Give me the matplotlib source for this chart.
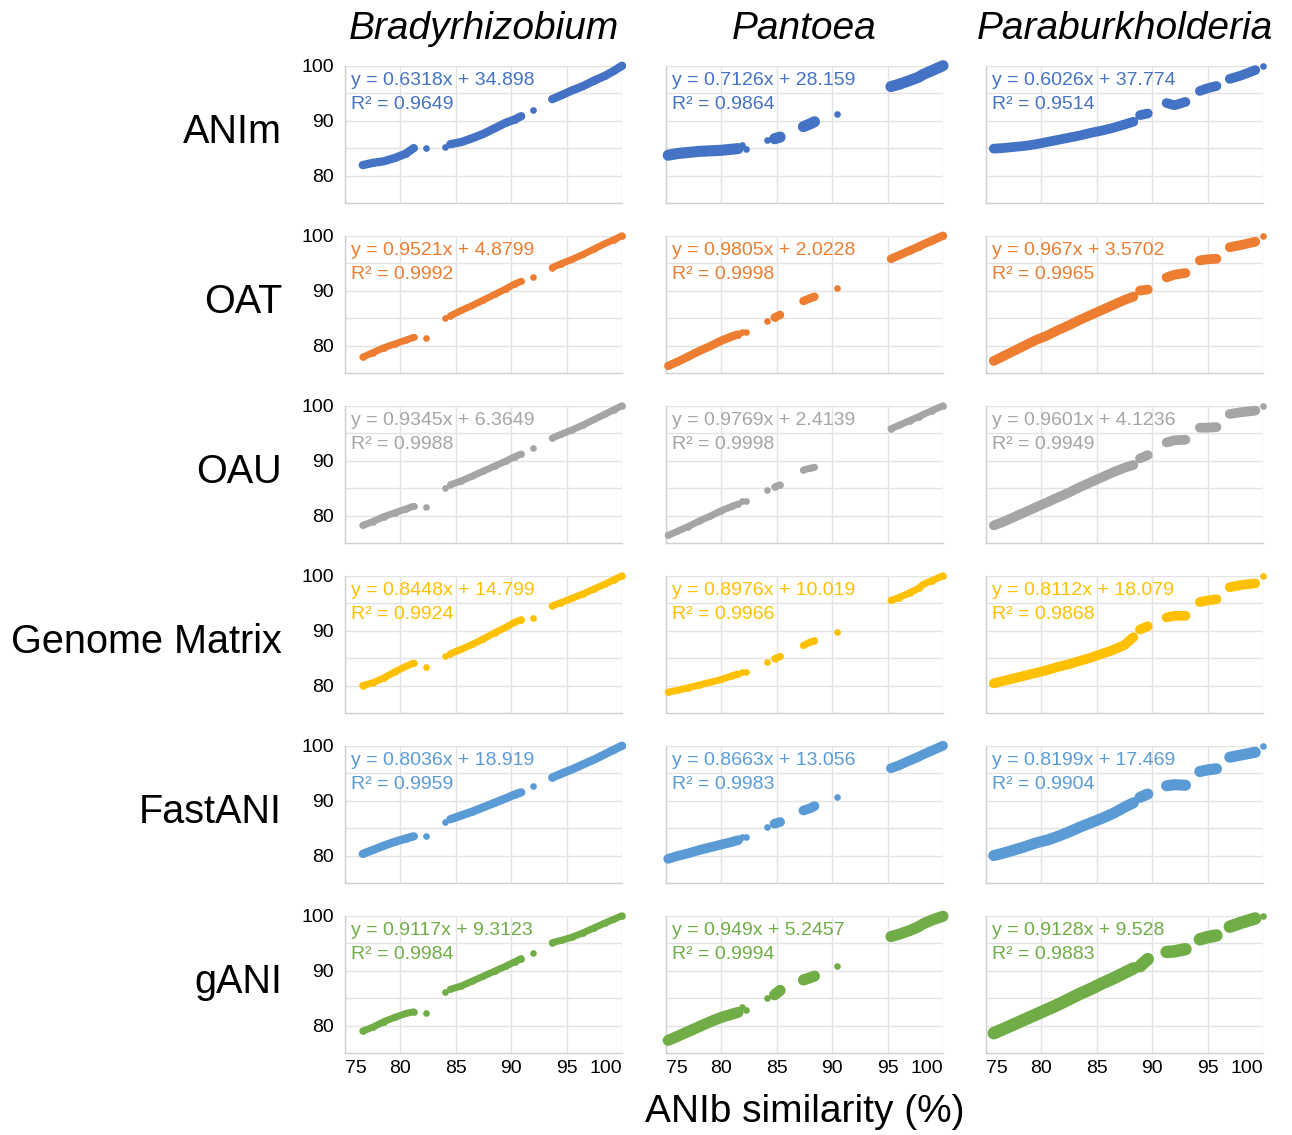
import numpy as np
import matplotlib.pyplot as plt
import matplotlib.ticker as mtick

plt.rcParams['font.family'] = ['Liberation Sans', 'DejaVu Sans']

nan = np.nan

genera = ['Bradyrhizobium', 'Pantoea', 'Paraburkholderia']
methods = ['ANIm', 'OAT', 'OAU', 'Genome Matrix', 'FastANI', 'gANI']
colors = ['#4472C4', '#ED7D31', '#A5A5A5', '#FFC000', '#5B9BD5', '#70AD47']
x_ticks = [75, 80, 85, 90, 95, 100]

# ANIb values (x), nan separates the clusters
brady_x = [76.6, 77.5, 78.5, 79.5, 80.5, 81.2, nan, 82.3, nan, 84.0, nan,
           84.5, 85.5, 86.5, 87.5, 88.5, 89.5, 90.3, 90.9, nan, 92.0, nan,
           93.7, 94.5, 95.5, 96.5, 97.5, 98.5, 99.3, 100.0]
pant_x = [75.2, 76.0, 77.0, 78.0, 79.0, 80.0, 81.0, 81.5, nan, 81.9, nan,
          82.2, nan, 84.1, nan, 84.8, 85.3, nan, 87.4, 88.0, 88.4, nan,
          90.4, nan, 95.3, 96.0, 97.0, 97.8, 98.2, 99.0, 100.0]
para_x = [75.7, 76.5, 77.5, 78.5, 79.5, 80.5, 81.5, 82.5, 83.5, 84.5, 85.5,
          86.5, 87.5, 88.3, nan, 88.9, 89.6, nan, 91.3, 92.0, 93.0, nan,
          94.3, 95.0, 95.8, nan, 97.0, 98.0, 99.3, nan, 100.0]

# Bradyrhizobium
brady_anim = [81.9, 82.3, 82.6, 83.2, 84.0, 85.0, nan, 85.0, nan, 85.2, nan,
              85.7, 86.1, 86.8, 87.6, 88.6, 89.6, 90.2, 90.8, nan, 91.9, nan,
              93.9, 94.6, 95.5, 96.3, 97.3, 98.2, 99.1, 100.0]
brady_oat = [77.9, 78.7, 79.6, 80.3, 81.0, 81.5, nan, 81.4, nan, 85.0, nan,
             85.4, 86.4, 87.3, 88.3, 89.3, 90.3, 91.2, 91.7, nan, 92.5, nan,
             94.2, 94.9, 95.7, 96.6, 97.6, 98.6, 99.3, 100.0]
brady_oau = [78.2, 78.9, 79.8, 80.5, 81.2, 81.7, nan, 81.5, nan, 85.0, nan,
             85.6, 86.3, 87.2, 88.1, 89.0, 89.9, 90.7, 91.2, nan, 92.3, nan,
             94.1, 94.8, 95.6, 96.5, 97.5, 98.5, 99.3, 100.0]
brady_gm = [80.0, 80.5, 81.4, 82.5, 83.5, 84.1, nan, 83.3, nan, 85.3, nan,
            85.8, 86.6, 87.5, 88.5, 89.6, 90.6, 91.5, 92.0, nan, 92.3, nan,
            94.5, 95.1, 95.9, 96.7, 97.6, 98.5, 99.3, 100.0]
brady_fast = [80.3, 81.0, 81.8, 82.5, 83.1, 83.5, nan, 83.6, nan, 86.1, nan,
              86.6, 87.3, 88.0, 88.8, 89.6, 90.4, 91.1, 91.5, nan, 92.6, nan,
              94.2, 94.9, 95.7, 96.6, 97.5, 98.5, 99.3, 100.0]
brady_gani = [79.0, 79.7, 80.7, 81.5, 82.2, 82.5, nan, 82.3, nan, 86.1, nan,
              86.6, 87.2, 88.1, 89.0, 89.9, 90.8, 91.6, 92.2, nan, 93.2, nan,
              95.1, 95.5, 96.1, 96.9, 97.8, 98.7, 99.4, 100.0]

# Pantoea
pant_anim = [83.7, 84.0, 84.2, 84.4, 84.5, 84.6, 84.8, 84.9, nan, 85.6, nan,
             84.9, nan, 86.4, nan, 86.7, 87.0, nan, 88.9, 89.4, 89.8, nan,
             91.2, nan, 96.2, 96.6, 97.3, 97.9, 98.4, 99.1, 100.0]
pant_oat = [76.3, 77.0, 78.0, 79.0, 79.9, 80.9, 81.7, 82.0, nan, 82.5, nan,
            82.4, nan, 84.5, nan, 85.1, 85.6, nan, 88.1, 88.6, 88.9, nan,
            90.4, nan, 95.8, 96.4, 97.3, 98.0, 98.4, 99.1, 100.0]
pant_oau = [76.4, 77.1, 78.0, 79.0, 79.9, 80.9, 81.7, 82.1, nan, 82.6, nan,
            82.6, nan, 84.7, nan, 85.2, 85.6, nan, 88.3, 88.6, 88.8, nan,
            nan, nan, 95.8, 96.4, 97.3, 98.0, 98.4, 99.1, 100.0]
pant_gm = [78.8, 79.1, 79.6, 80.1, 80.6, 81.1, 81.8, 82.1, nan, 82.4, nan,
           82.4, nan, 84.2, nan, 84.9, 85.3, nan, 87.3, 87.9, 88.2, nan,
           89.8, nan, 95.5, 96.0, 96.9, 97.7, 98.4, 99.1, 100.0]
pant_fast = [79.4, 79.9, 80.4, 81.0, 81.5, 82.0, 82.5, 82.8, nan, 83.3, nan,
             83.3, nan, 85.2, nan, 85.8, 86.1, nan, 88.2, 88.6, 89.0, nan,
             90.6, nan, 95.9, 96.4, 97.3, 98.0, 98.4, 99.1, 100.0]
pant_gani = [77.3, 78.0, 78.9, 79.8, 80.7, 81.5, 82.1, 82.4, nan, 83.3, nan,
             82.8, nan, 85.1, nan, 85.6, 86.4, nan, 88.3, 88.7, 89.0, nan,
             90.8, nan, 96.2, 96.6, 97.3, 98.0, 98.5, 99.2, 99.9]

# Paraburkholderia
para_anim = [84.9, 85.0, 85.2, 85.4, 85.7, 86.1, 86.5, 86.9, 87.3, 87.8, 88.2,
             88.7, 89.3, 89.8, nan, 91.0, 91.3, nan, 93.2, 92.8, 93.4, nan,
             95.4, 95.9, 96.3, nan, 97.6, 98.2, 99.2, nan, 100.0]
para_oat = [77.2, 78.0, 79.0, 80.0, 81.0, 81.8, 82.8, 83.7, 84.7, 85.6, 86.5,
            87.4, 88.3, 88.9, nan, 90.0, 90.2, nan, 92.4, 92.9, 93.2, nan,
            95.5, 95.7, 95.8, nan, 97.9, 98.3, 98.9, nan, 100.0]
para_oau = [78.2, 78.8, 79.7, 80.6, 81.5, 82.4, 83.3, 84.2, 85.2, 86.1, 87.0,
            87.9, 88.7, 89.2, nan, 90.4, 91.0, nan, 93.3, 93.7, 93.8, nan,
            96.0, 96.0, 96.1, nan, 98.5, 98.8, 99.1, nan, 100.0]
para_gm = [80.4, 80.8, 81.3, 81.8, 82.3, 82.8, 83.4, 83.9, 84.5, 85.1, 85.8,
           86.5, 87.4, 88.8, nan, 90.2, 90.8, nan, 92.4, 92.7, 92.7, nan,
           95.2, 95.5, 95.7, nan, 97.9, 98.3, 98.6, nan, 100.0]
para_fast = [80.0, 80.4, 81.0, 81.6, 82.3, 82.8, 83.5, 84.3, 85.2, 86.0, 86.8,
             87.7, 88.8, 89.6, nan, 90.6, 91.2, nan, 92.7, 92.9, 92.8, nan,
             95.3, 95.6, 95.8, nan, 97.9, 98.3, 98.8, nan, 100.0]
para_gani = [78.6, 79.3, 80.2, 81.1, 82.0, 82.9, 83.8, 84.8, 85.8, 86.7, 87.7,
             88.6, 89.6, 90.4, nan, 90.8, 92.1, nan, 93.4, 93.5, 93.9, nan,
             95.7, 96.1, 96.4, nan, 98.0, 98.7, 99.5, nan, 100.0]

brady_eq = [('y = 0.6318x + 34.898', 'R² = 0.9649'), ('y = 0.9521x + 4.8799', 'R² = 0.9992'),
            ('y = 0.9345x + 6.3649', 'R² = 0.9988'), ('y = 0.8448x + 14.799', 'R² = 0.9924'),
            ('y = 0.8036x + 18.919', 'R² = 0.9959'), ('y = 0.9117x + 9.3123', 'R² = 0.9984')]
pant_eq = [('y = 0.7126x + 28.159', 'R² = 0.9864'), ('y = 0.9805x + 2.0228', 'R² = 0.9998'),
           ('y = 0.9769x + 2.4139', 'R² = 0.9998'), ('y = 0.8976x + 10.019', 'R² = 0.9966'),
           ('y = 0.8663x + 13.056', 'R² = 0.9983'), ('y = 0.949x + 5.2457', 'R² = 0.9994')]
para_eq = [('y = 0.6026x + 37.774', 'R² = 0.9514'), ('y = 0.967x + 3.5702', 'R² = 0.9965'),
           ('y = 0.9601x + 4.1236', 'R² = 0.9949'), ('y = 0.8112x + 18.079', 'R² = 0.9868'),
           ('y = 0.8199x + 17.469', 'R² = 0.9904'), ('y = 0.9128x + 9.528', 'R² = 0.9883')]

xs = [brady_x, pant_x, para_x]
ys = [[brady_anim, brady_oat, brady_oau, brady_gm, brady_fast, brady_gani],
      [pant_anim, pant_oat, pant_oau, pant_gm, pant_fast, pant_gani],
      [para_anim, para_oat, para_oau, para_gm, para_fast, para_gani]]
eqs = [brady_eq, pant_eq, para_eq]

# thickness of the dense point bands (pt)
band_w = [[6, 5, 5, 5, 6, 5],
          [8, 6, 5, 5, 7, 8],
          [7, 7, 7, 7, 8, 9]]

W, H = 1292, 1135
fig = plt.figure(figsize=(W / 100, H / 100), dpi=100)

col_left = [345, 666, 986]
ax_w, ax_h = 277, 137.3
grid_c = '#e3e3e3'

for c in range(3):
    for r in range(6):
        top = 65.7 + 170 * r
        ax = fig.add_axes([col_left[c] / W, 1 - (top + ax_h) / H, ax_w / W, ax_h / H])
        col = colors[r]
        ax.plot(xs[c], ys[c][r], color=col, lw=band_w[c][r],
                solid_capstyle='round', solid_joinstyle='round',
                marker='o', ms=4.8, mec=col, mew=0, clip_on=False, zorder=3)
        ax.set_xlim(75, 100)
        ax.set_ylim(75, 100)
        ax.set_xticks(x_ticks)
        ax.yaxis.set_major_locator(mtick.FixedLocator([80, 90, 100]))
        ax.yaxis.set_minor_locator(mtick.FixedLocator([85, 95]))
        ax.grid(True, which='both', color=grid_c, lw=1.0, zorder=0)
        ax.set_axisbelow(True)
        for s in ['top', 'right']:
            ax.spines[s].set_visible(False)
        for s in ['left', 'bottom']:
            ax.spines[s].set_color('#d0d0d0')
            ax.spines[s].set_linewidth(1.0)
        ax.tick_params(which='both', length=0, labelsize=14, colors='black')
        ax.tick_params(axis='y', pad=8)
        ax.set_xticklabels([])
        if c != 0:
            ax.set_yticklabels([])
        if r == 5:
            # Excel keeps the edge labels inside the plot area
            for i, v in enumerate(x_ticks):
                ha = 'left' if i == 0 else ('right' if i == len(x_ticks) - 1 else 'center')
                ax.text(v, -0.05, str(v), transform=ax.get_xaxis_transform(),
                        fontsize=14, ha=ha, va='top')
        eq_line, r2_line = eqs[c][r]
        ax.text(0.02, 0.89, eq_line, transform=ax.transAxes, color=col,
                fontsize=14, ha='left', va='center')
        ax.text(0.02, 0.715, r2_line, transform=ax.transAxes, color=col,
                fontsize=14, ha='left', va='center')

        if r == 0:
            fig.text((col_left[c] + ax_w / 2) / W, 1 - 29 / H, genera[c],
                     fontsize=28, style='italic', ha='center', va='center')
        if c == 0:
            fig.text(282 / W, 1 - (top + ax_h / 2 - 2) / H, methods[r],
                     fontsize=28.5, ha='right', va='center')

fig.text(805 / W, 1 - 1112 / H, 'ANIb similarity (%)', fontsize=28,
         ha='center', va='center')

fig.savefig('out.png', dpi=100)
